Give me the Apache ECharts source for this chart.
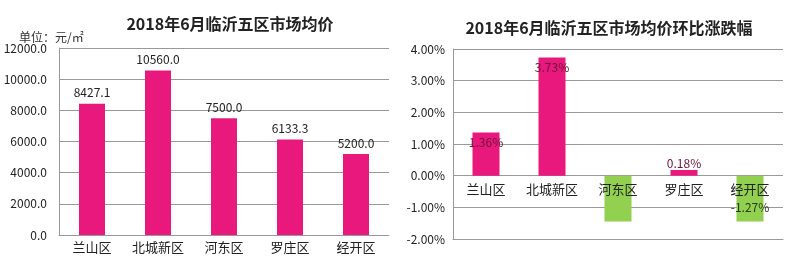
<!DOCTYPE html>
<html><head><meta charset="utf-8">
<script src="https://cdn.jsdelivr.net/npm/echarts@6/dist/echarts.min.js"></script>
<style>html,body{margin:0;padding:0;background:#fff}#c{width:800px;height:258px}</style>
</head><body><div id="c"></div>
<script>
const categories = ['兰山区','北城新区','河东区','罗庄区','经开区'];
const priceValues = [8427.1, 10560.0, 7500.0, 6133.3, 5200.0];
const changeValues = [1.36, 3.73, -1.45, 0.18, -1.45];
const changeLabels = ['1.36%','3.73%','','0.18%','-1.27%'];
const priceTicks = [0, 2000, 4000, 6000, 8000, 10000, 12000];
const changeTicks = [-2, -1, 0, 1, 2, 3, 4];
const titleLeft = '2018年6月临沂五区市场均价';
const titleRight = '2018年6月临沂五区市场均价环比涨跌幅';
const unitText = '单位：元/㎡';

const PINK = '#e8187c', GREEN = '#92d050';
const font = 'Microsoft YaHei, "Noto Sans CJK SC", sans-serif';
const chart = echarts.init(document.getElementById('c'));
chart.setOption({
  animation: false,
  textStyle: {fontFamily: font},
  title: [
    {text: titleLeft, left: 225, top: 11, textAlign: 'center', textStyle: {fontSize: 16, fontWeight: 'bold', color: '#222', fontFamily: font}},
    {text: titleRight, left: 604, top: 15, textAlign: 'center', textStyle: {fontSize: 16, fontWeight: 'bold', color: '#222', fontFamily: font}},
    {text: unitText, left: 14, top: 26, textStyle: {fontSize: 12, fontWeight: 'normal', color: '#333', fontFamily: font}}
  ],
  grid: [
    {left: 59, right: 411, top: 48, bottom: 23},
    {left: 453, right: 17, top: 49, bottom: 19}
  ],
  xAxis: [
    {gridIndex: 0, type: 'category', data: categories,
     axisLine: {lineStyle: {color: '#999'}}, axisTick: {show: false},
     axisLabel: {fontSize: 13, color: '#222', margin: 6, interval: 0}},
    {gridIndex: 1, type: 'category', data: categories, z: 5,
     axisLine: {show: true, onZero: false, lineStyle: {color: '#999'}}, axisTick: {show: false},
     axisLabel: {fontSize: 13, color: '#222', margin: -56, interval: 0}}
  ],
  yAxis: [
    {gridIndex: 0, type: 'value', min: priceTicks[0], max: priceTicks[priceTicks.length-1], interval: 2000,
     axisLine: {show: true, lineStyle: {color: '#999'}}, axisTick: {show: false},
     splitLine: {lineStyle: {color: '#999'}},
     axisLabel: {fontSize: 12, color: '#222', margin: 12, formatter: v => v.toFixed(1)}},
    {gridIndex: 1, type: 'value', min: changeTicks[0], max: changeTicks[changeTicks.length-1], interval: 1,
     axisLine: {show: true, onZero: false, lineStyle: {color: '#999'}}, axisTick: {show: false},
     splitLine: {lineStyle: {color: '#999'}},
     axisLabel: {fontSize: 12, color: '#222', margin: 8, formatter: v => v.toFixed(2) + '%'}}
  ],
  series: [
    {type: 'bar', xAxisIndex: 0, yAxisIndex: 0, barWidth: 26,
     data: priceValues, itemStyle: {color: PINK},
     label: {show: true, position: 'top', fontSize: 12, color: '#222', distance: 5,
             formatter: p => p.value.toFixed(1)}},
    {type: 'bar', xAxisIndex: 1, yAxisIndex: 1, barWidth: 27,
     data: changeValues.map((v, i) => ({
       value: v,
       itemStyle: {color: v >= 0 ? PINK : GREEN},
       label: {
         show: changeLabels[i] !== '',
         position: v < 0 ? 'insideBottom' : (v < 0.5 ? 'top' : 'insideTop'),
         distance: v < 0 ? 8 : (v < 0.5 ? 1 : 4),
         color: v >= 0 ? '#6b1238' : '#2b3a1a',
         fontSize: 12
       }
     })),
     label: {formatter: p => changeLabels[p.dataIndex]}}
  ]
});
</script></body></html>
